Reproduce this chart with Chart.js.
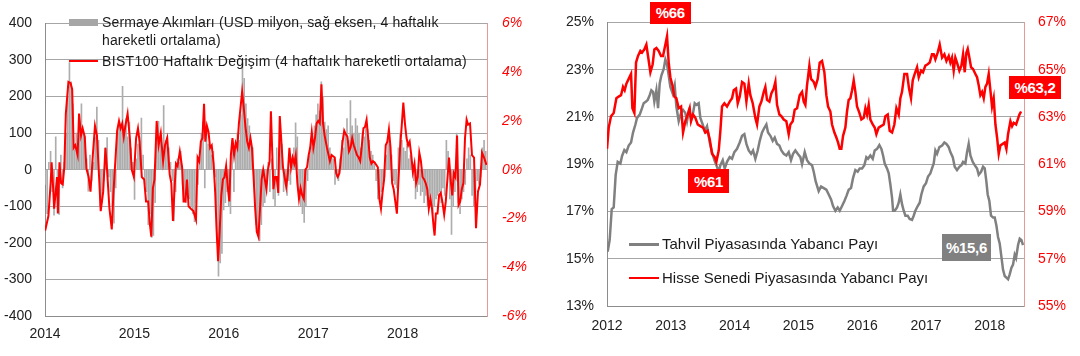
<!DOCTYPE html>
<html>
<head>
<meta charset="utf-8">
<script src="https://cdn.jsdelivr.net/npm/chart.js@4.4.1/dist/chart.umd.min.js"></script>
<style>
html,body{margin:0;padding:0;background:#fff;width:1080px;height:356px;overflow:hidden;font-family:"Liberation Sans",Arial,sans-serif;}
#wl{position:absolute;left:0;top:0;width:540px;height:356px;}
#wr{position:absolute;left:560px;top:0;width:520px;height:356px;}
.lg{position:absolute;font-size:14px;color:#1a1a1a;white-space:nowrap;line-height:18px;letter-spacing:0.15px;}
.lg2{position:absolute;font-size:15px;color:#1a1a1a;white-space:nowrap;line-height:18px;}
.sw{position:absolute;}
.box{position:absolute;color:#fff;font-weight:bold;font-size:15px;display:flex;align-items:center;justify-content:center;letter-spacing:-0.3px;}
</style>
</head>
<body>
<div id="wl"><canvas id="c1" width="540" height="356"></canvas></div>
<div id="wr"><canvas id="c2" width="520" height="356"></canvas></div>

<div class="sw" style="left:69px;top:18.5px;width:29px;height:7px;background:#a6a6a6"></div>
<div class="lg" style="left:102px;top:13px">Sermaye Akımları (USD milyon, sağ eksen, 4 haftalık</div>
<div class="lg" style="left:102px;top:31px">hareketli ortalama)</div>
<div class="sw" style="left:69px;top:60px;width:29px;height:2px;background:#ff0000"></div>
<div class="lg" style="left:102px;top:52px;letter-spacing:0.35px">BIST100 Haftalık Değişim (4 haftalık hareketli ortalama)</div>

<div class="sw" style="left:629px;top:243px;width:30px;height:2.5px;background:#808080"></div>
<div class="lg2" style="left:662px;top:235px">Tahvil Piyasasında Yabancı Payı</div>
<div class="sw" style="left:629px;top:276.5px;width:30px;height:2.5px;background:#ff0000"></div>
<div class="lg2" style="left:662px;top:269px">Hisse Senedi Piyasasında Yabancı Payı</div>

<div class="box" style="left:650px;top:1.5px;width:40.5px;height:22.5px;background:#ff0000">%66</div>
<div class="box" style="left:688px;top:169px;width:41px;height:24px;background:#ff0000">%61</div>
<div class="box" style="left:1009px;top:75.5px;width:52px;height:23.5px;background:#ff0000">%63,2</div>
<div class="box" style="left:942px;top:234px;width:49px;height:26.5px;background:#808080">%15,6</div>

<script>
// ---------- Left panel: capital flows (weekly, USD mn) & BIST100 weekly change (%) ----------
const flowStartYear = 2014.005;   // first weekly observation (early Jan 2014)
const flowValues = [
  -40,-120,20,50,-60, -124,90,-60,-122,40, -50,20,100,200,293, 240,180,60,100,70,
  130,180,100,90,30, -59,40,-30,20,90, 171,80,-100,-90,-30, 60,88,-20,-60,-100,
  -146,-50,100,128,110, 228,120,140,90,130, 60,20,-81,30,70, 90,141,40,-40,-60,
  -150,-120,-185,-180,-90, 100,132,90,60,175, 80,90,60,20,-30, -140,-60,30,20,50,
  -40,-80,-90,-60,-80, -100,-120,-142,-90,-40, 30,100,130,-50,110, 70,60,40,50,-20,
  -200,-291,-255,-229,-110, -90,-60,-100,-120,80, -60,60,100,80,150, 293,250,180,140,120,
  80,60,-40,-150,-180, -194,-150,-100,-90,-40, 20,-60,30,-80,-100, 60,-70,80,70,-60,
  -40,-70,-30,-40,20, 60,128,90,-60,-100, -120,-144,-100,-30,40, 80,60,120,150,180,
  160,240,200,130,110, 120,60,40,30,-40, -20,-30,30,80,60, 100,140,80,189,120,
  100,140,120,100,60, 100,90,120,110,80, 50,40,20,-30,-80, -80,-60,-40,-20,40,
  90,70,40,-30,-40, -50,60,100,80,60, 50,70,30,40,20, -30,-80,-60,-40,-70,
  -60,-90,-70,-100,-80, -90,-120,-100,-80,-70, -60,-90,-50,-70,80, 50,-80,-177,-100,-60,
  100,-90,-120,-80,-60, -40,30,60,40,-70, -100,-60,-30,-40,-20, 60,80,50
];
const bistBaseYear = 2014;
const bistT = [
  0.002,0.038,0.063,0.074,0.092,0.102,0.120,0.134,0.144,0.162,
  0.180,0.198,0.216,0.233,0.262,0.286,0.304,0.321,0.339,0.365,
  0.381,0.403,0.421,0.445,0.463,0.488,0.509,0.535,0.559,0.581,
  0.605,0.623,0.651,0.676,0.694,0.721,0.747,0.764,0.807,0.828,
  0.846,0.864,0.881,0.899,0.924,0.949,0.970,0.994,1.019,1.040,
  1.058,1.083,1.109,1.130,1.154,1.172,1.189,1.207,1.225,1.249,
  1.271,1.295,1.321,1.342,1.367,1.395,1.413,1.431,1.449,1.465,
  1.483,1.508,1.534,1.550,1.570,1.588,1.606,1.632,1.660,1.689,
  1.707,1.725,1.743,1.761,1.779,1.793,1.811,1.829,1.847,1.865,
  1.886,1.904,1.918,1.936,1.954,1.972,1.990,2.008,2.026,2.044,
  2.062,2.079,2.097,2.115,2.133,2.151,2.169,2.187,2.205,2.223,
  2.241,2.262,2.280,2.298,2.315,2.333,2.351,2.369,2.387,2.405,
  2.423,2.441,2.459,2.477,2.494,2.512,2.527,2.545,2.555,2.573,
  2.591,2.609,2.626,2.644,2.662,2.680,2.698,2.716,2.734,2.752,
  2.770,2.788,2.805,2.823,2.841,2.859,2.877,2.895,2.913,2.931,
  2.949,2.966,2.984,3.002,3.020,3.038,3.056,3.074,3.092,3.110,
  3.128,3.154,3.187,3.205,3.223,3.241,3.257,3.275,3.293,3.311,
  3.329,3.347,3.365,3.383,3.400,3.418,3.436,3.454,3.472,3.490,
  3.508,3.526,3.544,3.562,3.579,3.597,3.615,3.633,3.651,3.669,
  3.687,3.723,3.740,3.758,3.775,3.793,3.811,3.829,3.847,3.865,
  3.883,3.900,3.918,3.936,3.954,3.972,3.990,4.008,4.026,4.044,
  4.062,4.079,4.097,4.115,4.133,4.151,4.169,4.187,4.205,4.223,
  4.241,4.258,4.276,4.293,4.311,4.329,4.347,4.358,4.372,4.390,
  4.408,4.426,4.444,4.465,4.483,4.501,4.519,4.537,4.555,4.573,
  4.591,4.609,4.626,4.644,4.662,4.680,4.698,4.716,4.732,4.754,
  4.776,4.799,4.821,4.843,4.866,4.888,4.911,4.938
];
const bistValues = [
  -2.5,-1.9,-0.55,0.3,-0.8,-1.6,-0.9,-0.3,-1.8,0.3,
  -0.55,-0.6,0.1,2.3,3.6,3.55,3.3,0.9,1.0,0.6,
  2.3,1.4,1.7,1.35,0.05,-0.3,-0.9,0.6,1.8,1.4,
  -0.3,-1.7,-0.9,0.9,0,-1.6,-2.45,-1.05,1.6,2.0,
  1.7,1.9,1.35,1.8,2.3,1.3,0,-0.3,1.3,1.7,
  1.15,-0.3,-0.4,-1.3,-1.3,-2.2,-2.75,-0.75,-0.4,2.0,
  1.0,1.5,0.35,1.0,1.3,-0.2,-0.55,-2.1,-0.8,0.25,
  0.15,0.75,0.1,-1.3,-1.3,-0.4,-1.5,-1.6,-1.7,-2.05,
  0.5,0.35,1.15,1.3,2.7,1.15,1.8,1.55,0.9,1.0,
  0.25,-0.95,-2.35,-3.75,-2.5,-1.05,-0.4,-0.3,0.15,-0.7,
  -1.3,0.6,1.3,0.6,1.1,0.9,1.9,2.55,3.2,2.55,
  1.8,1.15,0.9,1.3,0.9,-0.3,-1.6,-2.55,-2.75,-1.6,
  -0.4,0,-0.4,-0.8,0,0.35,2.4,0.35,-0.8,-0.3,
  -0.3,-0.95,2.2,1.15,0.1,-0.3,-0.7,-0.15,0.9,0.1,
  0.5,0.25,0.6,-0.55,-1.2,-0.75,-1.05,-1.2,0,0.1,
  0.6,0.9,1.55,0.9,1.3,1.9,2.0,1.9,3.5,1.9,
  1.4,0.9,0.35,0.6,0.55,0.5,-0.15,-0.3,-0.15,0.5,
  1.15,1.6,1.45,1.35,0.75,0.9,1.3,1.0,0.8,0.6,
  0.5,0.35,1.0,1.7,1.75,2.05,1.3,0.5,0.25,0.35,
  0.3,0.1,-1.2,-1.6,-0.95,-0.4,1.0,1.15,1.65,0.9,
  -0.55,-0.8,-1.3,-1.8,-0.4,0.9,1.8,2.75,1.9,1.3,
  1.0,1.15,0.6,-0.1,0.25,-0.55,-0.3,0.7,0.35,-0.3,
  -0.4,-0.55,-0.8,-1.6,-1.2,-1.6,-2.35,-2.7,-1.8,-1.8,
  -1.05,-0.95,-1.3,-1.85,-1.3,-0.4,0.5,-0.4,-1.05,-0.15,
  -0.3,1.4,-1.45,-1.3,-0.8,-0.55,1.3,2.05,1.85,1.9,
  0.6,0.5,-2.4,-0.9,-0.6,0.7,0.5,0.2
];
const leftYearTicks = [2014, 2015, 2016, 2017, 2018];

// ---------- Right panel: foreign share in bond & equity markets ----------
const shareBaseYear = 2012;
const equityT = [
  0.000,0.027,0.063,0.105,0.147,0.183,0.220,0.251,0.277,0.304,
  0.340,0.377,0.398,0.429,0.455,0.486,0.523,0.549,0.586,0.617,
  0.643,0.680,0.716,0.742,0.774,0.810,0.847,0.878,0.915,0.941,
  0.967,0.993,1.025,1.056,1.087,1.124,1.161,1.192,1.228,1.265,
  1.296,1.317,1.349,1.385,1.422,1.463,1.505,1.542,1.578,1.610,
  1.646,1.688,1.714,1.751,1.777,1.803,1.840,1.881,1.923,1.960,
  1.986,2.022,2.049,2.080,2.117,2.153,2.185,2.221,2.247,2.284,
  2.325,2.352,2.388,2.420,2.457,2.482,2.508,2.545,2.576,2.613,
  2.639,2.665,2.702,2.733,2.770,2.811,2.848,2.874,2.911,2.942,
  2.979,3.020,3.057,3.083,3.109,3.135,3.172,3.198,3.240,3.266,
  3.303,3.334,3.370,3.407,3.438,3.465,3.501,3.527,3.564,3.595,
  3.621,3.647,3.673,3.700,3.736,3.762,3.788,3.814,3.841,3.867,
  3.893,3.919,3.956,3.987,4.024,4.050,4.076,4.102,4.128,4.165,
  4.196,4.222,4.258,4.295,4.337,4.363,4.400,4.431,4.468,4.504,
  4.536,4.572,4.598,4.624,4.661,4.703,4.734,4.765,4.792,4.823,
  4.860,4.886,4.923,4.953,4.990,5.026,5.058,5.094,5.121,5.147,
  5.183,5.215,5.252,5.288,5.320,5.356,5.382,5.408,5.434,5.460,
  5.486,5.523,5.555,5.581,5.607,5.633,5.654,5.680,5.706,5.737,
  5.774,5.800,5.826,5.852,5.879,5.905,5.931,5.957,5.983,6.009,
  6.035,6.061,6.088,6.114,6.140,6.166,6.203,6.234,6.260,6.286,
  6.323,6.349,6.375,6.412,6.438,6.464,6.490
];
const equityShare = [
  61.65,62.55,63.03,63.17,63.79,63.86,63.92,64.27,64.13,64.41,
  64.61,64.82,63.37,63.17,65.30,65.58,65.79,65.72,65.86,66.06,
  65.58,64.89,65.23,65.86,65.92,65.79,65.58,65.58,66.06,66.41,
  65.30,64.68,64.34,63.86,63.79,63.37,63.44,62.34,62.82,63.10,
  63.37,62.82,63.10,62.96,62.68,62.61,62.55,62.34,62.41,62.06,
  61.44,61.30,61.10,61.58,62.41,63.44,63.58,63.44,63.65,63.79,
  64.13,64.20,63.58,63.86,64.48,64.41,63.65,64.41,63.92,63.58,
  62.96,62.68,63.44,63.65,64.06,64.27,63.72,63.65,63.99,64.20,
  64.48,63.51,63.10,63.03,62.89,62.82,62.27,62.68,62.82,63.30,
  63.37,63.92,64.06,63.65,63.51,64.34,65.17,64.61,64.48,64.27,
  64.61,65.30,65.37,64.89,63.92,63.44,63.23,62.68,62.34,62.13,
  61.92,61.65,61.65,62.20,62.55,63.23,63.72,63.79,64.13,64.55,
  64.06,63.44,63.17,62.89,62.96,63.37,63.10,63.51,62.89,62.68,
  62.55,62.27,62.55,62.61,62.68,63.03,63.10,62.41,62.34,62.68,
  63.37,63.10,63.79,64.06,64.82,64.82,64.20,63.79,64.55,64.82,
  65.10,64.68,64.96,64.89,65.17,65.23,65.30,65.65,65.65,65.44,
  65.72,66.06,65.51,65.65,65.37,65.58,65.30,65.51,64.96,65.51,
  65.30,64.96,65.17,65.65,64.89,65.72,65.88,65.51,65.10,65.03,
  64.82,64.68,64.34,63.92,64.06,63.79,64.27,64.41,64.82,64.13,
  63.44,63.79,62.68,62.13,61.44,61.79,61.86,61.92,61.65,62.27,
  62.82,62.61,62.75,62.68,62.89,63.10,63.23
];
const bondT = [
  0.000,0.011,0.042,0.074,0.105,0.136,0.168,0.210,0.236,0.272,
  0.304,0.340,0.377,0.408,0.445,0.471,0.513,0.549,0.575,0.612,
  0.638,0.669,0.695,0.722,0.742,0.774,0.800,0.826,0.852,0.889,
  0.915,0.941,0.967,0.993,1.030,1.061,1.087,1.124,1.161,1.192,
  1.228,1.254,1.281,1.317,1.349,1.375,1.401,1.437,1.463,1.500,
  1.531,1.568,1.610,1.646,1.683,1.714,1.751,1.777,1.814,1.845,
  1.881,1.923,1.960,1.996,2.038,2.080,2.117,2.153,2.185,2.221,
  2.258,2.289,2.325,2.362,2.394,2.430,2.467,2.498,2.524,2.561,
  2.597,2.629,2.665,2.702,2.733,2.770,2.811,2.848,2.884,2.916,
  2.952,2.989,3.031,3.057,3.099,3.135,3.172,3.213,3.240,3.271,
  3.318,3.355,3.397,3.438,3.475,3.512,3.543,3.580,3.616,3.648,
  3.684,3.721,3.752,3.788,3.825,3.856,3.893,3.929,3.961,3.998,
  4.034,4.065,4.091,4.128,4.165,4.196,4.233,4.269,4.301,4.327,
  4.353,4.389,4.416,4.442,4.468,4.484,4.510,4.546,4.572,4.598,
  4.625,4.651,4.677,4.713,4.744,4.781,4.807,4.833,4.870,4.901,
  4.927,4.964,5.000,5.032,5.068,5.094,5.121,5.147,5.173,5.210,
  5.252,5.288,5.320,5.356,5.382,5.419,5.450,5.486,5.523,5.555,
  5.581,5.617,5.643,5.669,5.696,5.732,5.763,5.800,5.826,5.863,
  5.894,5.920,5.946,5.967,5.993,6.019,6.051,6.077,6.103,6.129,
  6.155,6.181,6.207,6.234,6.260,6.286,6.312,6.338,6.364,6.390,
  6.411,6.443,6.469,6.495,6.521
];
const bondShare = [
  15.5,15.3,15.8,17.1,17.17,18.55,19.1,19.03,19.35,19.6,
  19.51,19.79,19.92,20.34,20.68,20.96,21.10,21.37,21.58,21.65,
  21.72,21.92,22.13,22.06,21.65,22.13,21.37,22.41,22.75,23.03,
  23.44,23.23,22.75,22.27,21.99,22.34,21.44,20.82,21.17,21.30,
  21.17,20.82,21.23,20.96,21.17,21.58,21.51,21.58,20.96,20.68,
  20.41,20.61,19.92,19.51,19.17,18.96,18.68,18.96,19.17,18.82,
  19.10,19.30,19.23,19.51,19.65,19.92,20.20,20.27,19.86,19.58,
  19.44,19.58,19.23,19.58,19.99,20.34,20.54,20.68,20.34,20.20,
  19.99,20.13,19.86,19.79,19.58,19.44,19.37,19.51,19.17,19.44,
  19.58,19.44,19.30,19.0,19.51,19.17,19.03,18.96,18.68,18.27,
  17.86,18.06,17.99,17.92,17.72,17.51,17.23,17.03,17.17,17.03,
  17.23,17.44,17.65,17.92,17.99,18.41,18.75,18.68,18.82,18.82,
  18.96,19.30,19.23,19.37,19.23,19.58,19.65,19.81,19.65,19.37,
  19.03,18.82,18.61,18.13,17.58,17.03,17.03,17.17,17.37,17.72,
  17.30,17.03,16.82,16.82,16.68,16.64,16.82,17.03,17.23,17.37,
  17.72,18.06,18.20,18.48,18.61,18.82,19.03,19.58,19.44,19.72,
  19.79,19.92,19.86,19.72,19.51,19.30,18.89,18.75,18.89,18.96,
  19.10,19.03,19.51,19.86,19.37,19.10,18.96,18.82,18.55,18.68,
  18.89,18.82,18.27,17.72,17.44,16.82,16.75,16.75,16.41,15.92,
  15.65,15.10,14.54,14.27,14.20,14.13,14.34,14.61,14.75,15.17,
  15.03,15.58,15.85,15.79,15.58
];
const rightYearTicks = [2012, 2013, 2014, 2015, 2016, 2017, 2018];

// ---------- build ----------
const FONT = '"Liberation Sans", Arial, sans-serif';
const TXT = '#222';
const GRID = '#a6a6a6';
const AXIS = '#8c8c8c';
const PINK = '#e59a9a';

const flowData = flowValues.map((v, i) => ({ x: flowStartYear + i * 7 / 365.25, y: v }));
const bistData = bistT.map((t, i) => ({ x: bistBaseYear + t, y: bistValues[i] }));
const equityData = equityT.map((t, i) => ({ x: shareBaseYear + t, y: equityShare[i] }));
const bondData = bondT.map((t, i) => ({ x: shareBaseYear + t, y: bondShare[i] }));

function yearAxis(ticksList, min, max, pad, h) {
  return {
    type: 'linear', min: min, max: max, offset: false,
    grid: { display: false, offset: false, drawTicks: false },
    border: { display: true, color: AXIS, width: 1 },
    afterBuildTicks: s => { s.ticks = ticksList.map(v => ({ value: v })); },
    ticks: { autoSkip: false, maxRotation: 0, padding: pad, color: TXT, font: { size: 14, family: FONT },
      callback: v => String(v) },
    afterFit: s => { s.height = h; }
  };
}

new Chart(document.getElementById('c1'), {
  type: 'bar',
  data: { datasets: [
    { type: 'line', label: 'BIST100', data: bistData, yAxisID: 'y1', borderColor: '#ff0000',
      borderWidth: 2, pointRadius: 0, tension: 0, order: 1 },
    { type: 'bar', label: 'Sermaye', data: flowData, yAxisID: 'y', backgroundColor: '#adadad',
      barThickness: 1, order: 2 }
  ] },
  options: {
    responsive: false, animation: false, events: [],
    layout: { padding: { top: 9, left: 0, right: 0, bottom: 0 } },
    plugins: { legend: { display: false }, tooltip: { enabled: false } },
    scales: {
      x: yearAxis(leftYearTicks, 2014, 2018.944, 10, 40),
      y: { position: 'left', min: -400, max: 400,
        grid: { color: GRID, drawTicks: false }, border: { color: AXIS },
        ticks: { stepSize: 100, padding: 13, color: TXT, font: { size: 14, family: FONT }, callback: v => String(v) },
        afterFit: s => { s.width = 45; } },
      y1: { position: 'right', min: -6, max: 6,
        grid: { display: false, drawTicks: false }, border: { color: PINK },
        ticks: { stepSize: 2, padding: 15, color: '#ff0000', font: { size: 14, family: FONT, style: 'italic' }, callback: v => v + '%' },
        afterFit: s => { s.width = 53; } }
    }
  }
});

new Chart(document.getElementById('c2'), {
  type: 'line',
  data: { datasets: [
    { label: 'Hisse Senedi Piyasasında Yabancı Payı', data: equityData, yAxisID: 'y1', borderColor: '#ff0000',
      borderWidth: 2.5, pointRadius: 0, tension: 0 },
    { label: 'Tahvil Piyasasında Yabancı Payı', data: bondData, yAxisID: 'y', borderColor: '#808080',
      borderWidth: 2.5, pointRadius: 0, tension: 0 }
  ] },
  options: {
    responsive: false, animation: false, events: [],
    layout: { padding: { top: 17, left: 0, right: 0, bottom: 0 } },
    plugins: { legend: { display: false }, tooltip: { enabled: false } },
    scales: {
      x: yearAxis(rightYearTicks, 2012, 2018.536, 12, 50),
      y: { position: 'left', min: 13, max: 25,
        grid: { color: GRID, drawTicks: false }, border: { color: AXIS },
        ticks: { stepSize: 2, padding: 13, color: TXT, font: { size: 14, family: FONT }, callback: v => v + '%' },
        afterFit: s => { s.width = 47; } },
      y1: { position: 'right', min: 55, max: 67,
        grid: { display: false, drawTicks: false }, border: { color: PINK },
        ticks: { stepSize: 2, padding: 14, color: '#ff0000', font: { size: 14, family: FONT }, callback: v => v + '%' },
        afterFit: s => { s.width = 56; } }
    }
  }
});
</script>
</body>
</html>
